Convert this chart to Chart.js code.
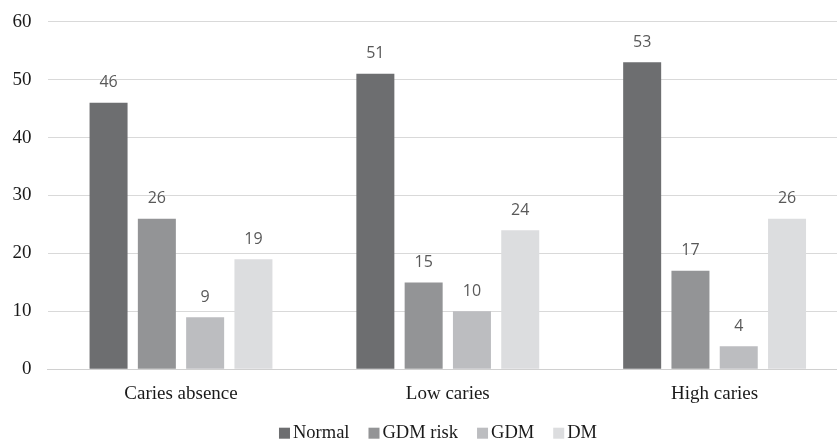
<!DOCTYPE html>
<html>
<head>
<meta charset="utf-8">
<script src="https://cdn.jsdelivr.net/npm/chart.js@4.4.0/dist/chart.umd.min.js"></script>
<style>
  html, body { margin: 0; padding: 0; background: #ffffff; overflow: hidden; }
  #wrap { position: relative; width: 876px; height: 442px; }
</style>
</head>
<body>
<div id="wrap"><canvas id="c" width="876" height="442"></canvas></div>
<script>
const categories = ["Caries absence", "Low caries", "High caries"];
const seriesNames = ["Normal", "GDM risk", "GDM", "DM"];
const normalValues = [46, 51, 53];
const gdmRiskValues = [26, 15, 17];
const gdmValues = [9, 10, 4];
const dmValues = [19, 24, 26];
const yTicks = [0, 10, 20, 30, 40, 50, 60];

const colors = ["#6d6e70", "#939496", "#bcbdc0", "#dcdddf"];
const serif = "'Liberation Serif', 'Times New Roman', serif";
const sans = "'Open Sans', 'Liberation Sans', sans-serif";

const allValues = [normalValues, gdmRiskValues, gdmValues, dmValues];

const valueLabels = {
  id: 'valueLabels',
  afterDatasetsDraw(chart) {
    const ctx = chart.ctx;
    ctx.save();
    ctx.font = "16px " + sans;
    ctx.fillStyle = "#595959";
    ctx.textAlign = "center";
    ctx.textBaseline = "middle";
    chart.data.datasets.forEach((ds, i) => {
      const meta = chart.getDatasetMeta(i);
      meta.data.forEach((bar, j) => {
        ctx.fillText(String(ds.data[j]), bar.x, bar.y - 20);
      });
    });
    ctx.restore();
  }
};

const customLegend = {
  id: 'customLegend',
  afterDraw(chart) {
    const ctx = chart.ctx;
    ctx.save();
    ctx.font = "18.5px " + serif;
    ctx.textBaseline = "alphabetic";
    const box = 11, gapText = 3, gapItem = 19;
    const items = chart.data.datasets.map(ds => ({ label: ds.label, color: ds.backgroundColor }));
    let total = 0;
    items.forEach((it, k) => {
      it.w = ctx.measureText(it.label).width;
      total += box + gapText + it.w + (k < items.length - 1 ? gapItem : 0);
    });
    let x = 438 - total / 2;
    const boxTop = 427.7, baseline = 438.3;
    items.forEach(it => {
      ctx.fillStyle = it.color;
      ctx.fillRect(x, boxTop, box, box);
      x += box + gapText;
      ctx.fillStyle = "#1a1a1a";
      ctx.fillText(it.label, x, baseline);
      x += it.w + gapItem;
    });
    ctx.restore();
  }
};

new Chart(document.getElementById('c'), {
  type: 'bar',
  data: {
    labels: categories,
    datasets: seriesNames.map((name, i) => ({
      label: name,
      data: allValues[i],
      backgroundColor: colors[i],
      borderWidth: 0,
      categoryPercentage: 0.724,
      barPercentage: 0.787
    }))
  },
  options: {
    responsive: false,
    animation: false,
    devicePixelRatio: 1,
    layout: { padding: { left: 0, right: 28, top: 21.7, bottom: 32.7 } },
    plugins: {
      legend: { display: false },
      tooltip: { enabled: false },
      title: { display: false }
    },
    scales: {
      x: {
        grid: { display: false, drawTicks: false },
        border: { display: true, color: "#d0d0d0", width: 1 },
        ticks: {
          color: "#1a1a1a",
          font: { family: serif, size: 19 },
          padding: 13,
          maxRotation: 0
        },
        afterFit(scale) { scale.height = 40; scale.paddingLeft = 0; scale.paddingRight = 0; }
      },
      y: {
        min: 0,
        max: 60,
        afterBuildTicks(scale) { scale.ticks = yTicks.map(v => ({ value: v })); },
        grid: { color: "#d9d9d9", lineWidth: 1, drawTicks: false },
        border: { display: false },
        ticks: {
          color: "#1a1a1a",
          font: { family: serif, size: 19 },
          padding: 16
        },
        afterFit(scale) { scale.width = 47.6; scale.paddingTop = 0; scale.paddingBottom = 0; }
      }
    }
  },
  plugins: [valueLabels, customLegend]
});
</script>
</body>
</html>
